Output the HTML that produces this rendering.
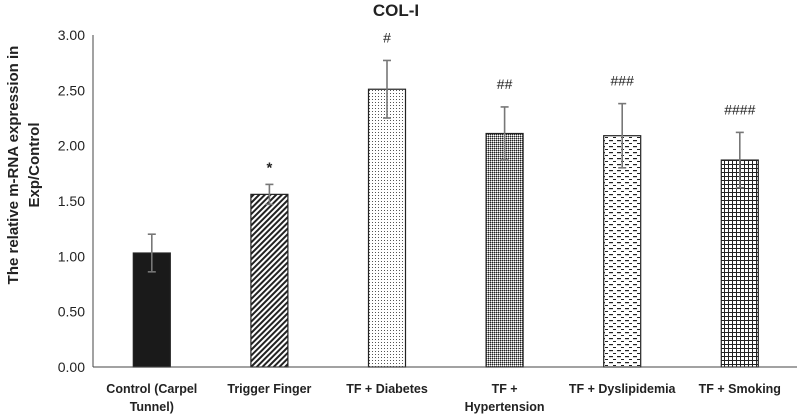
<!DOCTYPE html>
<html><head><meta charset="utf-8"><style>
body{margin:0;background:#fff;}
svg text{font-family:"Liberation Sans",sans-serif;fill:#222;}
</style></head><body>
<svg id="chart" width="797" height="415" viewBox="0 0 797 415" xmlns="http://www.w3.org/2000/svg">
<defs>
<pattern id="p-diag" patternUnits="userSpaceOnUse" width="4" height="4" patternTransform="rotate(45)"><rect width="4" height="4" fill="#fff"/><rect width="2" height="4" fill="#222"/></pattern>
<pattern id="p-dots" patternUnits="userSpaceOnUse" width="3" height="3"><rect width="3" height="3" fill="#fff"/><rect width="1" height="1" fill="#555"/></pattern>
<pattern id="p-check" patternUnits="userSpaceOnUse" width="2" height="2"><rect width="2" height="2" fill="#999"/><rect width="1" height="1" fill="#222"/><rect x="1" y="1" width="1" height="1" fill="#fff"/></pattern>
<pattern id="p-dash" patternUnits="userSpaceOnUse" width="8" height="6"><rect width="8" height="6" fill="#fff"/><rect x="1" y="2" width="4" height="1.2" fill="#222"/><rect x="5" y="5" width="3" height="1" fill="#222"/></pattern>
<pattern id="p-grid" patternUnits="userSpaceOnUse" width="4" height="4"><rect width="4" height="4" fill="#fff"/><rect width="1" height="4" fill="#222"/><rect width="4" height="1" fill="#222"/></pattern>
</defs>
<text x="396" y="16" font-size="17" font-weight="bold" text-anchor="middle">COL-I</text>
<g transform="translate(18,165) rotate(-90)">
<text x="0" y="0" font-size="15" font-weight="bold" text-anchor="middle">The relative m-RNA expression in</text>
<text x="0" y="21" font-size="15" font-weight="bold" text-anchor="middle">Exp/Control</text>
</g>
<g id="ticks"></g><g id="bars"></g>
<line x1="93" y1="35" x2="93" y2="367" stroke="#444" stroke-width="1"/>
<line x1="93" y1="367" x2="797" y2="367" stroke="#444" stroke-width="1"/>
</svg>
<script>
const categories=[["Control (Carpel","Tunnel)"],["Trigger Finger"],["TF + Diabetes"],["TF +","Hypertension"],["TF + Dyslipidemia"],["TF + Smoking"]];
const values=[1.03,1.56,2.51,2.11,2.09,1.87];
const errors=[0.17,0.09,0.26,0.24,0.29,0.25];
const marks=["","*","#","##","###","####"];
const tickValues=[0,0.5,1,1.5,2,2.5,3];
const tickLabels=["0.00","0.50","1.00","1.50","2.00","2.50","3.00"];
const fills=["#1a1a1a","url(#p-diag)","url(#p-dots)","url(#p-check)","url(#p-dash)","url(#p-grid)"];
const NS="http://www.w3.org/2000/svg";
const x0=93,y0=367,yTop=35,catW=117.6,barW=37,yMax=3;
const yS=v=>y0-(v/yMax)*(y0-yTop);
const xC=i=>x0+catW*(i+0.5);
function mk(tag,attrs,parent){const e=document.createElementNS(NS,tag);for(const k in attrs)e.setAttribute(k,attrs[k]);parent.appendChild(e);return e;}
const tg=document.getElementById('ticks');
tickValues.forEach((v,i)=>{
 const t=mk('text',{x:85,y:yS(v)+5,'font-size':14,'text-anchor':'end'},tg);
 
 
 t.textContent=tickLabels[i];
});
const bg=document.getElementById('bars');
values.forEach((v,i)=>{
 const cx=xC(i);
 const r=mk('rect',{x:cx-barW/2,y:yS(v),width:barW,height:y0-yS(v),fill:fills[i],stroke:'#222','stroke-width':1.2},bg);
 
 
 const hi=yS(v+errors[i]),lo=yS(v-errors[i]);
 const g=mk('g',{stroke:'#777','stroke-width':1.6},bg);
 
 
 mk('line',{x1:cx,y1:hi,x2:cx,y2:lo},g);
 mk('line',{x1:cx-4,y1:hi,x2:cx+4,y2:hi},g);
 mk('line',{x1:cx-4,y1:lo,x2:cx+4,y2:lo},g);
 if(marks[i]){
  const m=mk('text',{x:cx,y:hi-(i===1?12:18),'font-size':i===1?15:14,'text-anchor':'middle','font-weight':i===1?'bold':'normal'},bg);
  
  
  m.textContent=marks[i];
 }
 categories[i].forEach((line,j)=>{
  const t=mk('text',{x:cx,y:393+j*18,'font-size':12.5,'font-weight':'bold','text-anchor':'middle'},bg);
  
  
  t.textContent=line;
 });
});
</script>
</body></html>
